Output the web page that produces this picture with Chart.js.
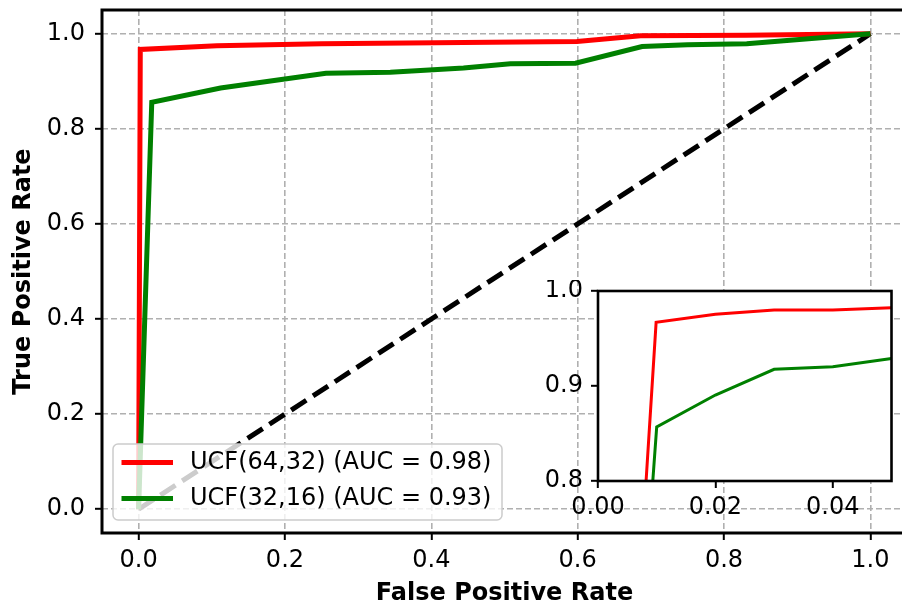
<!DOCTYPE html>
<html>
<head>
<meta charset="utf-8">
<script src="https://cdn.jsdelivr.net/npm/chart.js@4"></script>
<style>
html, body { margin: 0; padding: 0; background: #fff; overflow: hidden; }
#wrap { position: relative; width: 912px; height: 608px; }
#main { position: absolute; left: 0; top: 0; }
#inset { position: absolute; left: 530px; top: 280px; }
</style>
</head>
<body>
<div id="wrap">
<canvas id="main" width="912" height="608"></canvas>
<canvas id="inset" width="380" height="260"></canvas>
</div>
<script>
const FONT = "'DejaVu Sans', 'Liberation Sans', sans-serif";

// ROC curves.
const redFpr   = [0, 0.0023, 0.107, 0.25, 0.599, 0.686, 0.83, 1.0];
const redTpr   = [0, 0.967, 0.975, 0.979, 0.984, 0.996, 0.997, 1.0];
const greenFpr = [0, 0.018, 0.112, 0.256, 0.344, 0.444, 0.508, 0.597, 0.688, 0.75, 0.831, 1.0];
const greenTpr = [0, 0.856, 0.886, 0.917, 0.919, 0.928, 0.937, 0.938, 0.973, 0.977, 0.979, 1.0];
const chanceFpr = [0, 1];
const chanceTpr = [0, 1];
const mainTicks = [0, 0.2, 0.4, 0.6, 0.8, 1.0];

// Zoomed inset (FPR 0 - 0.05, TPR 0.8 - 1.0).
const insetRedFpr   = [0, 0.0099, 0.02, 0.03, 0.04, 0.05];
const insetRedTpr   = [0, 0.967, 0.9755, 0.98, 0.98, 0.9824];
const insetGreenFpr = [0, 0.01, 0.02, 0.03, 0.04, 0.05];
const insetGreenTpr = [0, 0.857, 0.8905, 0.9176, 0.9203, 0.929];
const insetXTicks = [0, 0.02, 0.04];
const insetYTicks = [0.8, 0.9, 1.0];

const seriesNames = ["UCF(64,32) (AUC = 0.98)", "UCF(32,16) (AUC = 0.93)"];
const RED = "#ff0000";
const GREEN = "#008000";

function Points(xs, ys) {
    return xs.map(function (x, i) { return { x: x, y: ys[i] }; });
}

function MakeScale(min, max, ticks, digits, size, tickPad, gridOn, title) {
    // Linear axis with fixed tick list and a fixed box size.
    return {
        type: "linear",
        min: min,
        max: max,
        afterBuildTicks: function (scale) {
            scale.ticks = ticks.map(function (v) { return { value: v }; });
        },
        afterFit: function (scale) {
            if (scale.isHorizontal()) scale.height = size;
            else scale.width = size;
            // ticks sit inside the range, no edge padding needed
            scale.paddingTop = 0;
            scale.paddingBottom = 0;
            scale.paddingLeft = 0;
            scale.paddingRight = 0;
        },
        grid: {
            drawOnChartArea: gridOn,
            color: "#b0b0b0",
            lineWidth: 1.6,
            tickLength: 7,
            tickColor: "#000",
            tickWidth: 2,
            tickBorderDash: []
        },
        border: { display: false, dash: [6, 3] },
        ticks: {
            autoSkip: false,
            maxRotation: 0,
            padding: tickPad,
            color: "#000",
            font: { family: FONT, size: 24 },
            callback: function (v) { return Number(v).toFixed(digits); }
        },
        title: title ? {
            display: true,
            text: title,
            color: "#000",
            font: { family: FONT, size: 24, weight: "bold" },
            padding: { top: 9, bottom: 0 }
        } : { display: false }
    };
}

function FramePlugin(width, fillWhite, rightSide) {
    // Axes frame; the main plot's right spine falls outside the picture.
    return {
        id: "frame",
        beforeDatasetsDraw: function (chart) {
            if (!fillWhite) return;
            const a = chart.chartArea;
            chart.ctx.save();
            chart.ctx.fillStyle = "#fff";
            chart.ctx.fillRect(a.left, a.top, a.right - a.left, a.bottom - a.top);
            chart.ctx.restore();
        },
        afterDatasetsDraw: function (chart) {
            const a = chart.chartArea, ctx = chart.ctx;
            ctx.save();
            ctx.strokeStyle = "#000";
            ctx.lineWidth = width;
            if (rightSide) {
                ctx.strokeRect(a.left, a.top, a.right - a.left, a.bottom - a.top);
            } else {
                ctx.lineCap = "square";
                ctx.beginPath();
                ctx.moveTo(a.right + 10, a.top);
                ctx.lineTo(a.left, a.top);
                ctx.lineTo(a.left, a.bottom);
                ctx.lineTo(a.right + 10, a.bottom);
                ctx.stroke();
            }
            ctx.restore();
        }
    };
}

function RoundRectPath(ctx, x, y, w, h, r) {
    ctx.beginPath();
    ctx.moveTo(x + r, y);
    ctx.arcTo(x + w, y, x + w, y + h, r);
    ctx.arcTo(x + w, y + h, x, y + h, r);
    ctx.arcTo(x, y + h, x, y, r);
    ctx.arcTo(x, y, x + w, y, r);
    ctx.closePath();
}

const legendPlugin = {
    // matplotlib-style legend in the lower left corner of the plot.
    id: "boxLegend",
    afterDraw: function (chart) {
        const ctx = chart.ctx, a = chart.chartArea;
        const bx = a.left + 11, bw = 389, bh = 76;
        const by = a.bottom - 13 - bh;
        ctx.save();
        RoundRectPath(ctx, bx, by, bw, bh, 5);
        ctx.fillStyle = "rgba(255,255,255,0.8)";
        ctx.fill();
        ctx.strokeStyle = "#cccccc";
        ctx.lineWidth = 1.5;
        ctx.stroke();
        ctx.font = "24px " + FONT;
        ctx.textBaseline = "middle";
        ctx.textAlign = "left";
        chart.data.datasets.slice(0, 2).forEach(function (ds, i) {
            const ly = by + 18.5 + i * 36;
            ctx.strokeStyle = ds.borderColor;
            ctx.lineWidth = 5;
            ctx.beginPath();
            ctx.moveTo(bx + 8.5, ly);
            ctx.lineTo(bx + 60, ly);
            ctx.stroke();
            ctx.fillStyle = "#000";
            ctx.fillText(ds.label, bx + 77, ly);
        });
        ctx.restore();
    }
};

new Chart(document.getElementById("main"), {
    type: "line",
    data: {
        datasets: [
            { label: seriesNames[0], data: Points(redFpr, redTpr), borderColor: RED, borderWidth: 5, order: 1 },
            { label: seriesNames[1], data: Points(greenFpr, greenTpr), borderColor: GREEN, borderWidth: 5, order: 0 },
            { label: "chance", data: Points(chanceFpr, chanceTpr), borderColor: "#000", borderWidth: 5, borderDash: [18, 8], order: 2 }
        ]
    },
    options: {
        responsive: false,
        animation: false,
        events: [],
        layout: { padding: { left: 0, top: 10, right: 5, bottom: 0 } },
        elements: { point: { radius: 0 }, line: { tension: 0, fill: false } },
        plugins: { legend: { display: false }, tooltip: { enabled: false } },
        scales: {
            x: MakeScale(-0.05, 1.05, mainTicks, 1, 75, 6, true, "False Positive Rate"),
            y: MakeScale(-0.05, 1.05, mainTicks, 1, 102, 10, true, "True Positive Rate")
        }
    },
    plugins: [FramePlugin(3, false, false), legendPlugin]
});

new Chart(document.getElementById("inset"), {
    type: "line",
    data: {
        datasets: [
            { label: seriesNames[0], data: Points(insetRedFpr, insetRedTpr), borderColor: RED, borderWidth: 3, order: 1 },
            { label: seriesNames[1], data: Points(insetGreenFpr, insetGreenTpr), borderColor: GREEN, borderWidth: 3, order: 0 }
        ]
    },
    options: {
        responsive: false,
        animation: false,
        events: [],
        layout: { padding: { left: 0, top: 11, right: 18.5, bottom: 0 } },
        elements: { point: { radius: 0 }, line: { tension: 0, fill: false } },
        plugins: { legend: { display: false }, tooltip: { enabled: false } },
        scales: {
            x: MakeScale(0, 0.05, insetXTicks, 2, 59, 5, false, null),
            y: MakeScale(0.8, 1.0, insetYTicks, 1, 68, 8, false, null)
        }
    },
    plugins: [FramePlugin(2.6, true, true)]
});
</script>
</body>
</html>
